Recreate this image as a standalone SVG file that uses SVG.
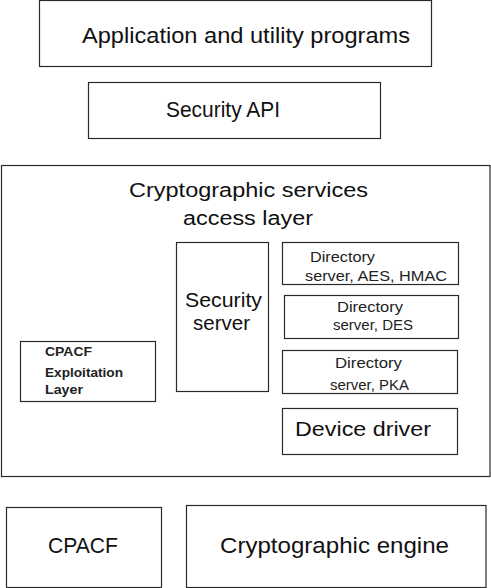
<svg xmlns="http://www.w3.org/2000/svg" width="491" height="588" viewBox="0 0 491 588">
<style>
.box{fill:#fff;stroke:#2a2a2a;stroke-width:1.2}
.t{font-family:"Liberation Sans",Arial,sans-serif;fill:#111}
.l{font-size:22px}
.m{font-size:20px}
.s{font-size:14px;fill:#222}
.b{font-size:13px;font-weight:bold;fill:#222}
</style>
<rect width="491" height="588" fill="#fff"/>
<g id="apps">
<rect class="box" x="39.5" y="0.5" width="392" height="66"/>
<text class="t l" x="82" y="43" textLength="328" lengthAdjust="spacingAndGlyphs">Application and utility programs</text>
</g>
<g id="security-api">
<rect class="box" x="88.5" y="82.5" width="292" height="56"/>
<text class="t l" x="166" y="117" textLength="114" lengthAdjust="spacingAndGlyphs">Security API</text>
</g>
<g id="access-layer">
<rect class="box" x="1.5" y="165.5" width="488.5" height="311"/>
<text class="t m" x="129" y="197" textLength="239" lengthAdjust="spacingAndGlyphs">Cryptographic services</text>
<text class="t m" x="183" y="225" textLength="130" lengthAdjust="spacingAndGlyphs">access layer</text>
</g>
<g id="security-server">
<rect class="box" x="176.5" y="242.5" width="92" height="149"/>
<text class="t m" x="185" y="307" textLength="77" lengthAdjust="spacingAndGlyphs">Security</text>
<text class="t m" x="193" y="330" textLength="57" lengthAdjust="spacingAndGlyphs">server</text>
</g>
<g id="dir-aes">
<rect class="box" x="282.5" y="242.5" width="176" height="42"/>
<text class="t s" x="310" y="262" textLength="65" lengthAdjust="spacingAndGlyphs">Directory</text>
<text class="t s" x="305" y="281" textLength="142" lengthAdjust="spacingAndGlyphs">server, AES, HMAC</text>
</g>
<g id="dir-des">
<rect class="box" x="284.5" y="295.5" width="174" height="43"/>
<text class="t s" x="337" y="312" textLength="66" lengthAdjust="spacingAndGlyphs">Directory</text>
<text class="t s" x="333" y="330" textLength="80" lengthAdjust="spacingAndGlyphs">server, DES</text>
</g>
<g id="dir-pka">
<rect class="box" x="282.5" y="350.5" width="175" height="43"/>
<text class="t s" x="335" y="368" textLength="67" lengthAdjust="spacingAndGlyphs">Directory</text>
<text class="t s" x="330" y="390" textLength="79" lengthAdjust="spacingAndGlyphs">server, PKA</text>
</g>
<g id="device-driver">
<rect class="box" x="282.5" y="408.5" width="175" height="46"/>
<text class="t m" x="295" y="436" textLength="136" lengthAdjust="spacingAndGlyphs">Device driver</text>
</g>
<g id="cpacf-layer">
<rect class="box" x="20.5" y="341.5" width="135" height="60"/>
<text class="t b" x="45" y="356" textLength="47" lengthAdjust="spacingAndGlyphs">CPACF</text>
<text class="t b" x="45" y="377" textLength="78" lengthAdjust="spacingAndGlyphs">Exploitation</text>
<text class="t b" x="45" y="394" textLength="38" lengthAdjust="spacingAndGlyphs">Layer</text>
</g>
<g id="cpacf">
<rect class="box" x="6.5" y="507.5" width="155" height="80"/>
<text class="t l" x="48" y="553" textLength="70" lengthAdjust="spacingAndGlyphs">CPACF</text>
</g>
<g id="crypto-engine">
<rect class="box" x="186.5" y="505.5" width="299.5" height="82"/>
<text class="t l" x="220" y="553" textLength="229" lengthAdjust="spacingAndGlyphs">Cryptographic engine</text>
</g>
<g id="connectors"></g>
</svg>
